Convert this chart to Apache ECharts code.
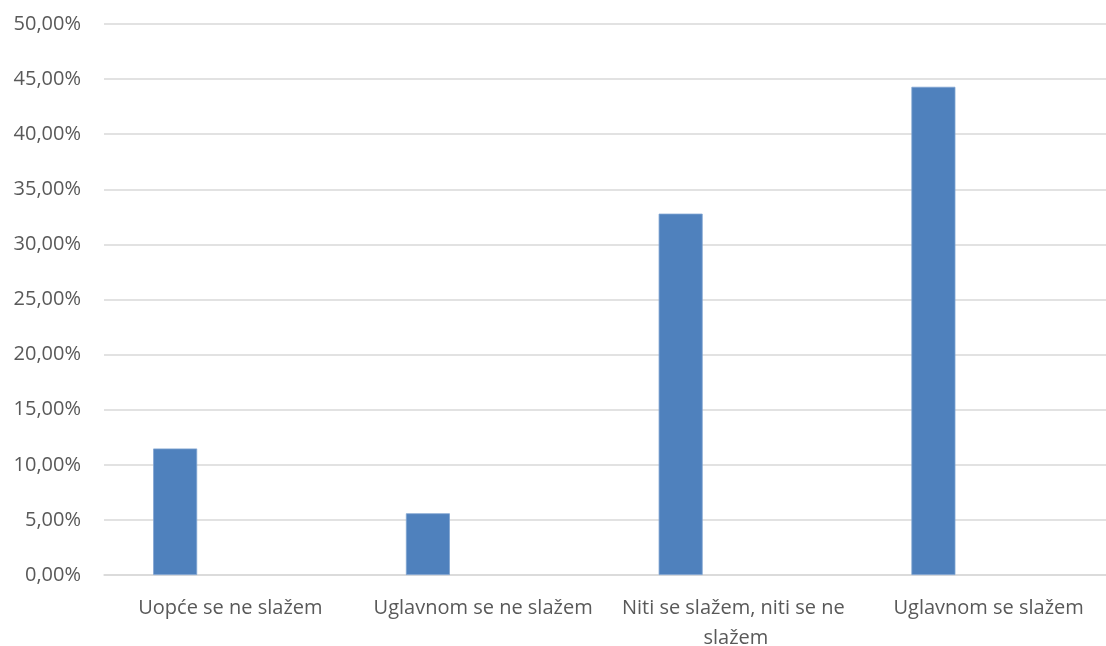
<!DOCTYPE html>
<html>
<head>
<meta charset="utf-8">
<script src="https://cdn.jsdelivr.net/npm/echarts@6/dist/echarts.min.js"></script>
<style>
  html, body { margin: 0; padding: 0; background: #ffffff; overflow: hidden; }
  #chart { width: 1106px; height: 646px; }
</style>
</head>
<body>
<div id="chart"></div>
<script>
// Answer categories and the share of respondents for each (percent)
const categories = ['Uopće se ne slažem', 'Uglavnom se ne slažem', 'Niti se slažem, niti se ne slažem', 'Uglavnom se slažem'];
const shares = [11.48, 5.6, 32.79, 44.3];
// Empty companion series that keeps the bars to the left of each category
const emptySeries = [null, null, null, null];

const yMin = 0;
const yMax = 50;
const yStep = 5;

const fontFamily = '"Open Sans", "Noto Sans", sans-serif';
const textColor = '#595959';
const gridColor = '#d9d9d9';

const chart = echarts.init(document.getElementById('chart'), null, { renderer: 'canvas', width: 1106, height: 646 });
chart.setOption({
  animation: false,
  backgroundColor: '#ffffff',
  grid: {
    left: 104, top: 24, width: 1011, height: 551,
    containLabel: false,
    outerBoundsMode: 'none'
  },
  xAxis: {
    type: 'category',
    data: categories,
    axisLine: { show: true, lineStyle: { color: gridColor, width: 1.5 } },
    axisTick: { show: false },
    axisLabel: {
      color: textColor,
      fontFamily: fontFamily,
      fontSize: 20,
      lineHeight: 30,
      margin: 18,
      width: 245,
      overflow: 'break',
      interval: 0
    }
  },
  yAxis: {
    type: 'value',
    min: yMin,
    max: yMax,
    interval: yStep,
    axisLine: { show: false },
    axisTick: { show: false },
    splitLine: { lineStyle: { color: gridColor, width: 1.5 } },
    axisLabel: {
      color: textColor,
      fontFamily: fontFamily,
      fontSize: 20,
      margin: 23,
      formatter: v => v.toFixed(2).replace('.', ',') + '%'
    }
  },
  series: [
    {
      type: 'bar',
      data: shares,
      barWidth: 44,
      barGap: '151%',
      itemStyle: { color: '#4f81bd', borderColor: '#7fa3d0', borderWidth: 0.8 }
    },
    {
      type: 'bar',
      data: emptySeries,
      barWidth: 44,
      itemStyle: { color: '#c0504d' }
    }
  ]
});
</script>
</body>
</html>
